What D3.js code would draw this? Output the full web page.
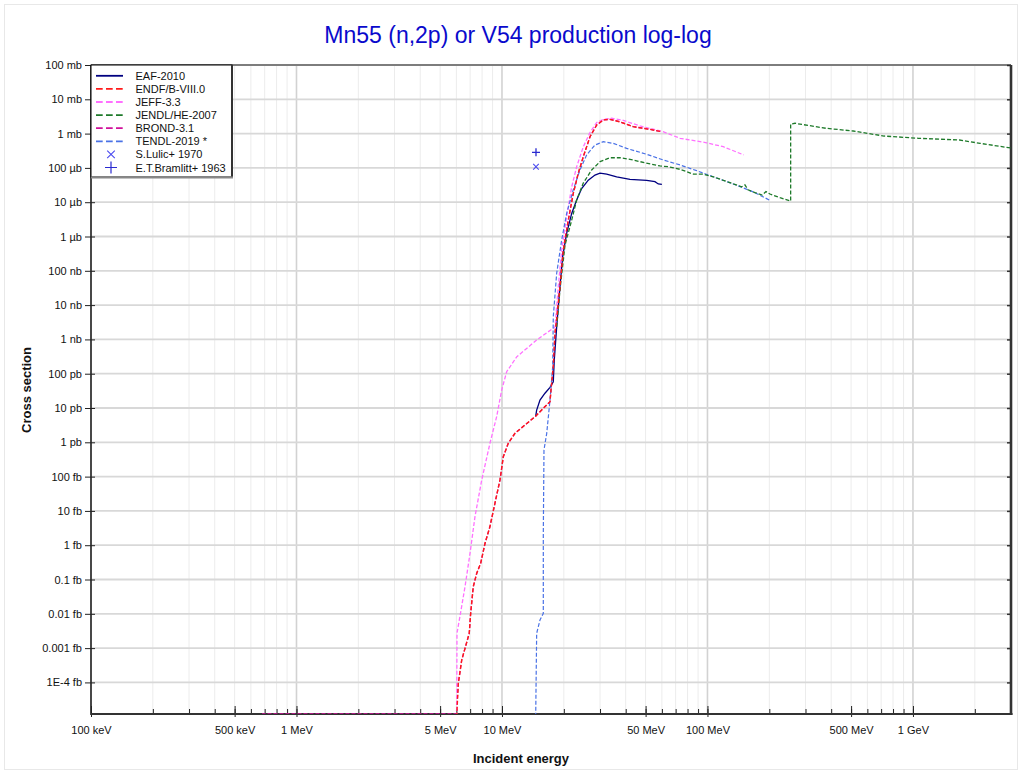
<!DOCTYPE html>
<html><head><meta charset="utf-8">
<script src="https://cdn.jsdelivr.net/npm/d3@7"></script>
<style>body{margin:0;background:#fff;} text{font-family:Arial,"Liberation Sans",sans-serif;}</style>
</head><body><svg id="c" width="1022" height="774"></svg>
<script>
// ---- data (energy in MeV, cross section in barns) ----
const xTickValues = [0.1, 0.5, 1, 5, 10, 50, 100, 500, 1000];
const xTickLabels = ["100 keV","500 keV","1 MeV","5 MeV","10 MeV","50 MeV","100 MeV","500 MeV","1 GeV"];
const yTickValues = [1e-1,1e-2,1e-3,1e-4,1e-5,1e-6,1e-7,1e-8,1e-9,1e-10,1e-11,1e-12,1e-13,1e-14,1e-15,1e-16,1e-17,1e-18,1e-19];
const yTickLabels = ["100 mb","10 mb","1 mb","100 µb","10 µb","1 µb","100 nb","10 nb","1 nb","100 pb","10 pb","1 pb","100 fb","10 fb","1 fb","0.1 fb","0.01 fb","0.001 fb","1E-4 fb"];

const eaf2010 = [[14.59,5.8e-12],[14.75,8.7e-12],[15.31,1.71e-11],[16.19,2.7e-11],[17.13,4.0e-11],[17.77,5.8e-11],[17.97,2.5e-10],[18.46,2.3e-9],[19.15,3.4e-8],[19.74,2.6e-7],[20.64,1.24e-6],[21.84,4.7e-6],[23.09,1.16e-5],[24.42,2.5e-5],[26.30,4.4e-5],[28.35,6.2e-5],[29.99,7.0e-5],[32.33,6.6e-5],[36.15,5.5e-5],[41.97,4.65e-5],[50.60,4.35e-5],[55.53,3.96e-5],[57.62,3.4e-5],[60,3.3e-5]];
const endf80 = [[6.02,1e-20],[6.13,9.4e-20],[6.37,4.5e-19],[6.93,2.7e-18],[7.04,1.03e-17],[7.25,6.2e-17],[7.53,1.5e-16],[7.88,3.0e-16],[8.27,1.14e-15],[8.74,3.5e-15],[9.24,1.67e-14],[9.78,8.0e-14],[10.15,3.8e-13],[10.73,9.4e-13],[11.57,1.83e-12],[12.94,3.2e-12],[14.59,5.8e-12],[15.89,9.8e-12],[17.13,1.53e-11],[17.32,3.35e-11],[17.77,1.6e-10],[18.11,1.5e-9],[18.46,4e-9],[19.15,3.4e-8],[19.88,4.0e-7],[21.02,3.0e-6],[22.23,1.8e-5],[23.51,7.0e-5],[24.86,2.1e-4],[26.81,8.1e-4],[28.90,1.78e-3],[31.11,2.5e-3],[33.54,2.6e-3],[37.51,2.2e-3],[43.54,1.59e-3],[52.52,1.33e-3],[60,1.14e-3]];
const jeff33 = [[6.02,1e-20],[6.04,2.75e-18],[6.24,8.2e-18],[6.61,6.2e-17],[6.99,5.8e-16],[7.39,6.8e-15],[7.97,8.0e-14],[8.74,9.4e-13],[9.42,5.6e-12],[9.97,3.35e-11],[10.54,1.14e-10],[11.79,3.1e-10],[14.75,9.6e-10],[18.11,2.3e-9],[18.79,3.4e-8],[19.52,4.0e-7],[20.64,3.8e-6],[21.84,2.8e-5],[23.09,1.08e-4],[24.86,4.1e-4],[26.81,1.08e-3],[28.90,2.1e-3],[31.11,2.6e-3],[34.19,2.8e-3],[38.23,2.5e-3],[46.95,1.67e-3],[60.75,1.14e-3],[73.5,7.3e-4],[99.1,5.4e-4],[119.4,4.15e-4],[150,2.4e-4]];
const jendlHe2007 = [[18.46,2.3e-9],[19.15,2.75e-8],[20.26,5.6e-7],[21.84,3.0e-6],[23.09,1.16e-5],[24.86,3.6e-5],[27.32,8.7e-5],[29.99,1.52e-4],[33.54,1.98e-4],[37.51,1.98e-4],[43.54,1.7e-4],[46.95,1.52e-4],[58.74,1.14e-4],[64.45,1.08e-4],[73.5,9.1e-5],[85.3,6.6e-5],[95.4,6.6e-5],[106.7,5.5e-5],[128.7,3.7e-5],[146.7,2.8e-5],[152.2,3.2e-5],[157.4,2.3e-5],[170.2,1.9e-5],[184.8,1.62e-5],[192.6,2.05e-5],[201.4,1.73e-5],[225.4,1.35e-5],[254,1.08e-5],[254,1.9e-3],[266.6,2.0e-3],[376.5,1.43e-3],[511.7,1.19e-3],[723.5,8.5e-4],[1064,7.3e-4],[1686,6.5e-4],[2123,5.2e-4],[3000,3.8e-4]];
const brond31 = [[0.68,1.2e-20],[6.0,1.2e-20],[6.13,9.4e-20],[6.37,4.5e-19],[6.93,2.7e-18],[7.04,1.03e-17],[7.25,6.2e-17],[7.53,1.5e-16],[7.88,3.0e-16],[8.27,1.14e-15],[8.74,3.5e-15],[9.24,1.67e-14],[9.78,8.0e-14],[10.15,3.8e-13],[10.73,9.4e-13],[11.57,1.83e-12],[12.94,3.2e-12],[14.59,5.8e-12],[15.89,9.8e-12],[17.13,1.53e-11],[17.32,3.35e-11],[17.77,1.6e-10],[18.11,1.5e-9],[18.46,4e-9],[19.15,3.4e-8],[19.88,4.0e-7],[21.02,3.0e-6],[22.23,1.8e-5],[23.51,7.0e-5],[24.86,2.1e-4],[26.81,8.1e-4],[28.90,1.78e-3],[31.11,2.5e-3],[33.54,2.6e-3],[37.51,2.2e-3],[43.54,1.59e-3],[52.52,1.33e-3],[60,1.14e-3]];
const tendl2019 = [[14.59,1e-20],[14.75,2.7e-18],[15.31,6.6e-18],[15.89,1.03e-17],[15.89,2.2e-15],[16.01,6.0e-13],[16.51,1.83e-12],[17.13,1.71e-11],[17.65,1.6e-10],[17.77,4.6e-9],[18.46,8.5e-8],[19.52,7.9e-7],[20.64,4.7e-6],[22.23,2.3e-5],[23.96,8.7e-5],[25.84,2.4e-4],[28.35,4.65e-4],[31.11,5.8e-4],[34.8,5.2e-4],[40.45,3.7e-4],[50.6,2.5e-4],[60.95,1.7e-4],[73.5,1.22e-4],[88.6,8.3e-5],[106.7,5.5e-5],[133.6,3.4e-5],[167.1,2.0e-5],[200,1.16e-5]];
const lulic1970 = [[14.64,1.08e-4]];
const bramlitt1963 = [[14.64,2.85e-4]];

const seriesNames = ["EAF-2010","ENDF/B-VIII.0","JEFF-3.3","JENDL/HE-2007","BROND-3.1","TENDL-2019 *"];
const pointNames = ["S.Lulic+ 1970","E.T.Bramlitt+ 1963"];

// ---- drawing ----
const svg = d3.select("#c");
const L = 91, R = 1011, T = 65, B = 714;
const x = d3.scaleLog().domain([0.1, 3000]).range([L, R]);
const y = d3.scaleLog().domain([1.2e-20, 0.1]).range([B, T]);

svg.append("rect").attr("x",0).attr("y",0).attr("width",1022).attr("height",774).attr("fill","#fff");
svg.append("rect").attr("x",4.5).attr("y",4.5).attr("width",1013).attr("height",765).attr("fill","none").attr("stroke","#e8e8e8");

// grid
const minorX = [];
for (let d = -1; d <= 3; d++) for (let m = 1; m <= 9; m++) { const v = m * Math.pow(10, d); if (v >= 0.1 && v <= 3000) minorX.push(v); }
const isDecade = v => Math.abs(Math.log10(v) - Math.round(Math.log10(v))) < 1e-9;
const g = svg.append("g");
g.selectAll("line.vm").data(minorX.filter(v => !isDecade(v))).join("line")
  .attr("x1",d=>x(d)).attr("x2",d=>x(d)).attr("y1",T).attr("y2",B).attr("stroke","#ececec").attr("stroke-width",1);
g.selectAll("line.vM").data(minorX.filter(isDecade)).join("line")
  .attr("x1",d=>x(d)).attr("x2",d=>x(d)).attr("y1",T).attr("y2",B).attr("stroke","#d2d2d2").attr("stroke-width",1.6);
g.selectAll("line.h").data(yTickValues).join("line")
  .attr("x1",L).attr("x2",R).attr("y1",d=>y(d)).attr("y2",d=>y(d)).attr("stroke","#d8d8d8").attr("stroke-width",1.8);

// axes
const ax = svg.append("g").attr("transform",`translate(0,${B})`)
  .call(d3.axisBottom(x).tickValues(minorX).tickFormat("").tickSizeInner(-5).tickSizeOuter(0));
ax.select(".domain").remove();
ax.selectAll("line").attr("stroke","#222");
const ax2 = svg.append("g").attr("transform",`translate(0,${B})`)
  .call(d3.axisBottom(x).tickValues(xTickValues).tickFormat((d,i)=>xTickLabels[i]).tickSizeInner(-8).tickSizeOuter(0).tickPadding(12));
ax2.select(".domain").remove();
ax2.selectAll("line").attr("stroke","#222").attr("y2",-8).attr("y1",3);
ax2.selectAll("text").attr("font-size","11px").attr("fill","#111").attr("font-family","Arial, 'Liberation Sans', sans-serif");

const ay = svg.append("g").attr("transform",`translate(${L},0)`)
  .call(d3.axisLeft(y).tickValues(yTickValues).tickFormat((d,i)=>yTickLabels[i]).tickSizeInner(6).tickSizeOuter(0).tickPadding(3));
ay.select(".domain").remove();
ay.selectAll("line").attr("stroke","#222").attr("x1",4);
ay.selectAll("text").attr("font-size","11px").attr("fill","#111").attr("font-family","Arial, 'Liberation Sans', sans-serif");

const ayr = svg.append("g").attr("transform",`translate(${R},0)`)
  .call(d3.axisRight(y).tickValues(yTickValues).tickFormat("").tickSizeInner(-4).tickSizeOuter(0));
ayr.select(".domain").remove();
ayr.selectAll("line").attr("stroke","#333").attr("stroke-width",1.5);

// frame
svg.append("line").attr("x1",L).attr("x2",R).attr("y1",T).attr("y2",T).attr("stroke","#222").attr("stroke-width",1);
svg.append("line").attr("x1",L).attr("x2",L).attr("y1",T).attr("y2",B+1).attr("stroke","#222").attr("stroke-width",1.6);
svg.append("line").attr("x1",L).attr("x2",R+1.5).attr("y1",B).attr("y2",B).attr("stroke","#333").attr("stroke-width",2);
svg.append("line").attr("x1",R).attr("x2",R).attr("y1",T).attr("y2",B+1).attr("stroke","#333").attr("stroke-width",2.6);

// curves
svg.append("clipPath").attr("id","clip").append("rect").attr("x",L).attr("y",T-1).attr("width",R-L).attr("height",B-T+1);
const plot = svg.append("g").attr("clip-path","url(#clip)");
const line = d3.line().x(d=>x(d[0])).y(d=>y(Math.max(d[1],1e-21)));
const series = [
  {name:seriesNames[4], data:brond31, color:"#d0109a", dash:"4,2", off:0.6, w:1.3},
  {name:seriesNames[0], data:eaf2010, color:"#000080", dash:null, off:0, w:1.3},
  {name:seriesNames[2], data:jeff33, color:"#ff70ff", dash:"4,2", off:0, w:1.3},
  {name:seriesNames[5], data:tendl2019, color:"#4a72e6", dash:"4,2", off:0, w:1.2},
  {name:seriesNames[3], data:jendlHe2007, color:"#1e7a2a", dash:"4,2", off:0, w:1.3},
  {name:seriesNames[1], data:endf80, color:"#ff1a1a", dash:"4,2", off:0, w:1.4}
];
series.forEach(s => {
  plot.append("path").datum(s.data).attr("d",line).attr("fill","none")
    .attr("stroke",s.color).attr("stroke-width",s.w)
    .attr("stroke-dasharray",s.dash).attr("stroke-dashoffset",s.off);
});
plot.selectAll("path.lu").data(lulic1970).join("path")
  .attr("transform",d=>`translate(${x(d[0])},${y(d[1])})`)
  .attr("d","M-2.8,-2.8L2.8,2.8M2.8,-2.8L-2.8,2.8").attr("stroke","#4a4af0").attr("stroke-width",1.1);
plot.selectAll("path.br").data(bramlitt1963).join("path")
  .attr("transform",d=>`translate(${x(d[0])},${y(d[1])})`)
  .attr("d","M-4,0H4M0,-4V4").attr("stroke","#2a2ad0").attr("stroke-width",1.3);

// legend
const lg = svg.append("g");
lg.append("rect").attr("x",L).attr("y",T).attr("width",141).attr("height",112).attr("fill","#fff").attr("stroke","#000").attr("stroke-width",1);
lg.append("line").attr("x1",L+141).attr("x2",L+141).attr("y1",T).attr("y2",T+113).attr("stroke","#333").attr("stroke-width",2);
lg.append("line").attr("x1",L).attr("x2",L+142).attr("y1",T+112.5).attr("y2",T+112.5).attr("stroke","#888").attr("stroke-width",2);
const legendLines = [
  {name:seriesNames[0], color:"#000080", dash:null},
  {name:seriesNames[1], color:"#ff1a1a", dash:"6.7,3.3"},
  {name:seriesNames[2], color:"#ff70ff", dash:"6.7,3.3"},
  {name:seriesNames[3], color:"#1e7a2a", dash:"6.7,3.3"},
  {name:seriesNames[4], color:"#d0109a", dash:"6.7,3.3"},
  {name:seriesNames[5], color:"#4a72e6", dash:"6.7,3.3"}
];
const rowY = i => 75.8 + i * 13.1;
legendLines.forEach((s,i) => {
  lg.append("line").attr("x1",96).attr("x2",123).attr("y1",rowY(i)).attr("y2",rowY(i))
    .attr("stroke",s.color).attr("stroke-width",1.8).attr("stroke-dasharray",s.dash);
  lg.append("text").attr("x",135.5).attr("y",rowY(i)+4).attr("font-size","11px").attr("fill","#111").text(s.name);
});
lg.append("path").attr("transform",`translate(111,${rowY(6)})`).attr("d","M-3.8,-3.8L3.8,3.8M3.8,-3.8L-3.8,3.8").attr("stroke","#4a4af0").attr("stroke-width",1.1);
lg.append("text").attr("x",135.5).attr("y",rowY(6)+4).attr("font-size","11px").attr("fill","#111").text(pointNames[0]);
lg.append("path").attr("transform",`translate(111,${rowY(7)})`).attr("d","M-6,0H6M0,-6V6").attr("stroke","#2a2ad0").attr("stroke-width",1.2);
lg.append("text").attr("x",135.5).attr("y",rowY(7)+4).attr("font-size","11px").attr("fill","#111").text(pointNames[1]);

// titles
svg.append("text").attr("x",518).attr("y",43).attr("text-anchor","middle").attr("font-size","23px").attr("fill","#0a0acc")
  .text("Mn55 (n,2p) or V54 production log-log");
svg.append("text").attr("x",521).attr("y",763).attr("text-anchor","middle").attr("font-size","13px").attr("font-weight","bold").attr("fill","#111")
  .text("Incident energy");
svg.append("text").attr("transform","translate(31,390) rotate(-90)").attr("text-anchor","middle").attr("font-size","13px").attr("font-weight","bold").attr("fill","#111")
  .text("Cross section");
</script></body></html>
